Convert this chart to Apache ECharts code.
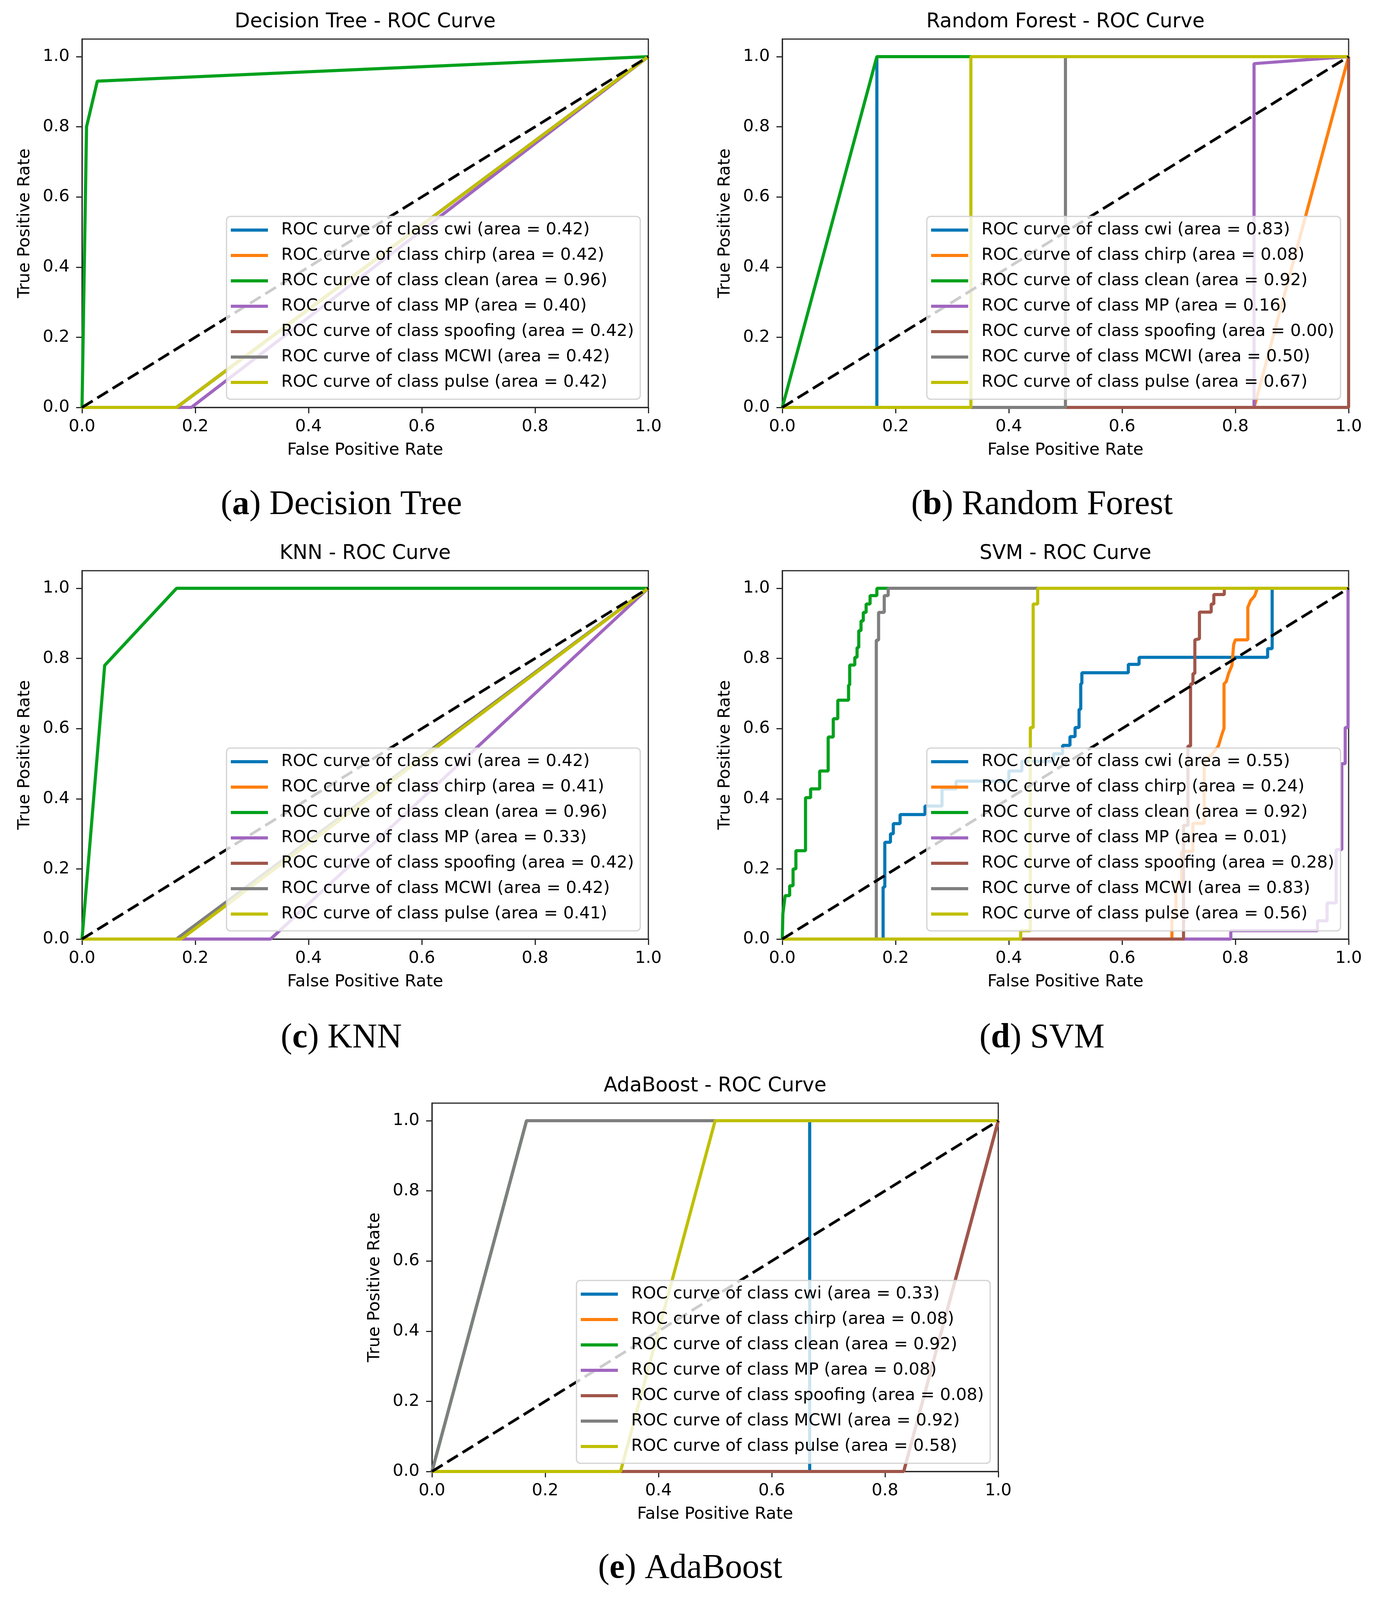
<!DOCTYPE html>
<html>
<head>
<meta charset="utf-8">
<title>ROC curves</title>
<script src="https://cdn.jsdelivr.net/npm/echarts@6/dist/echarts.min.js"></script>
<style>
    html, body { margin: 0; padding: 0; background: #fff; }
    #main { width: 3518px; height: 4102px; }
</style>
</head>
<body>
<div id="main"></div>
<script>
// classes, same order in every panel
var classNames = ['cwi', 'chirp', 'clean', 'MP', 'spoofing', 'MCWI', 'pulse'];
var xTicks = [0, 0.2, 0.4, 0.6, 0.8, 1.0];
var yTicks = [0, 0.2, 0.4, 0.6, 0.8, 1.0];
var chanceLine = [[0, 0], [1, 1]];

var panelTitles = ['Decision Tree - ROC Curve', 'Random Forest - ROC Curve', 'KNN - ROC Curve', 'SVM - ROC Curve', 'AdaBoost - ROC Curve'];
var panelLetters = ['a', 'b', 'c', 'd', 'e'];
var panelNames = ['Decision Tree', 'Random Forest', 'KNN', 'SVM', 'AdaBoost'];

// (a) Decision Tree
var dtAreas = [0.42, 0.42, 0.96, 0.40, 0.42, 0.42, 0.42];
var dtCurves = [
    [[0, 0], [0.167, 0], [1, 1]],
    [[0, 0], [0.167, 0], [1, 1]],
    [[0, 0], [0.008, 0.8], [0.027, 0.93], [1, 1]],
    [[0, 0], [0.193, 0], [1, 1]],
    [[0, 0], [0.167, 0], [1, 1]],
    [[0, 0], [0.167, 0], [1, 1]],
    [[0, 0], [0.167, 0], [1, 1]]
];

// (b) Random Forest
var rfAreas = [0.83, 0.08, 0.92, 0.16, 0.00, 0.50, 0.67];
var rfCurves = [
    [[0, 0], [0.167, 0], [0.167, 1], [1, 1]],
    [[0, 0], [0.833, 0], [1, 1]],
    [[0, 0], [0.167, 1], [1, 1]],
    [[0, 0], [0.833, 0], [0.833, 0.98], [1, 1]],
    [[0, 0], [1, 0], [1, 1]],
    [[0, 0], [0.5, 0], [0.5, 1], [1, 1]],
    [[0, 0], [0.333, 0], [0.333, 1], [1, 1]]
];

// (c) KNN
var knnAreas = [0.42, 0.41, 0.96, 0.33, 0.42, 0.42, 0.41];
var knnCurves = [
    [[0, 0], [0.167, 0], [1, 1]],
    [[0, 0], [0.175, 0], [1, 1]],
    [[0, 0], [0.04, 0.78], [0.167, 1], [1, 1]],
    [[0, 0], [0.333, 0], [1, 1]],
    [[0, 0], [0.167, 0], [1, 1]],
    [[0, 0], [0.167, 0], [1, 1]],
    [[0, 0], [0.175, 0], [1, 1]]
];

// (d) SVM
var svmAreas = [0.55, 0.24, 0.92, 0.01, 0.28, 0.83, 0.56];
var svmCwi = [[0, 0], [0.178, 0], [0.178, 0.148], [0.181, 0.148], [0.181, 0.276], [0.191, 0.276], [0.191, 0.300],
    [0.196, 0.300], [0.196, 0.329], [0.208, 0.329], [0.208, 0.355], [0.252, 0.355], [0.252, 0.379], [0.282, 0.379],
    [0.282, 0.428], [0.307, 0.428], [0.307, 0.450], [0.400, 0.450], [0.400, 0.479], [0.423, 0.479], [0.423, 0.507],
    [0.479, 0.507], [0.479, 0.528], [0.495, 0.528], [0.495, 0.552], [0.508, 0.552], [0.508, 0.577], [0.517, 0.577],
    [0.517, 0.603], [0.524, 0.603], [0.524, 0.655], [0.527, 0.655], [0.527, 0.728], [0.529, 0.728], [0.529, 0.759],
    [0.611, 0.759], [0.611, 0.783], [0.630, 0.783], [0.630, 0.803], [0.857, 0.803], [0.857, 0.828], [0.865, 0.828],
    [0.865, 1], [1, 1]];
var svmChirp = [[0, 0], [0.688, 0], [0.688, 0.06], [0.695, 0.06], [0.695, 0.16], [0.705, 0.16], [0.705, 0.25],
    [0.725, 0.25], [0.725, 0.33], [0.745, 0.33], [0.745, 0.5], [0.770, 0.55], [0.776, 0.582], [0.780, 0.601],
    [0.780, 0.727], [0.784, 0.734], [0.788, 0.757], [0.794, 0.780], [0.797, 0.839], [0.800, 0.853], [0.822, 0.853],
    [0.822, 0.945], [0.827, 0.965], [0.834, 0.978], [0.839, 1], [1, 1]];
var svmClean = [[0, 0], [0.001, 0.072], [0.005, 0.124], [0.013, 0.124], [0.013, 0.152], [0.019, 0.152], [0.019, 0.200],
    [0.024, 0.200], [0.024, 0.252], [0.041, 0.252], [0.041, 0.403], [0.050, 0.403], [0.050, 0.428], [0.066, 0.428],
    [0.066, 0.479], [0.081, 0.479], [0.081, 0.576], [0.090, 0.576], [0.090, 0.628], [0.098, 0.628], [0.098, 0.681],
    [0.117, 0.681], [0.117, 0.724], [0.119, 0.724], [0.119, 0.781], [0.128, 0.781], [0.128, 0.803], [0.132, 0.803],
    [0.132, 0.831], [0.135, 0.831], [0.135, 0.879], [0.139, 0.879], [0.139, 0.907], [0.143, 0.907], [0.143, 0.931],
    [0.148, 0.931], [0.148, 0.955], [0.155, 0.955], [0.155, 0.979], [0.167, 0.979], [0.167, 1], [1, 1]];
var svmMP = [[0, 0], [0.792, 0], [0.792, 0.024], [0.945, 0.024], [0.945, 0.052], [0.962, 0.052], [0.962, 0.103],
    [0.978, 0.103], [0.978, 0.255], [0.988, 0.255], [0.988, 0.5], [0.994, 0.5], [0.994, 0.603], [0.999, 0.603],
    [0.999, 1], [1, 1]];
var svmSpoofing = [[0, 0], [0.7085, 0], [0.7085, 0.324], [0.7163, 0.324], [0.7163, 0.55], [0.7209, 0.55],
    [0.7209, 0.727], [0.7251, 0.727], [0.7251, 0.757], [0.7285, 0.757], [0.7285, 0.853], [0.7366, 0.856],
    [0.7366, 0.932], [0.7574, 0.932], [0.7574, 0.955], [0.762, 0.955], [0.762, 0.982], [0.7805, 0.982],
    [0.7805, 1], [1, 1]];
var svmMCWI = [[0, 0], [0.166, 0], [0.166, 0.852], [0.170, 0.852], [0.170, 0.931], [0.180, 0.931], [0.180, 0.979],
    [0.187, 0.979], [0.187, 1], [1, 1]];
var svmPulse = [[0, 0], [0.421, 0], [0.421, 0.024], [0.438, 0.024], [0.438, 0.603], [0.443, 0.603], [0.443, 0.955],
    [0.451, 0.955], [0.451, 1], [1, 1]];
var svmCurves = [svmCwi, svmChirp, svmClean, svmMP, svmSpoofing, svmMCWI, svmPulse];

// (e) AdaBoost
var adaAreas = [0.33, 0.08, 0.92, 0.08, 0.08, 0.92, 0.58];
var adaCurves = [
    [[0, 0], [0.667, 0], [0.667, 1], [1, 1]],
    [[0, 0], [0.833, 0], [1, 1]],
    [[0, 0], [0.167, 1], [1, 1]],
    [[0, 0], [0.833, 0], [1, 1]],
    [[0, 0], [0.833, 0], [1, 1]],
    [[0, 0], [0.167, 1], [1, 1]],
    [[0, 0], [0.333, 0], [0.5, 1], [1, 1]]
];

var panelCurves = [dtCurves, rfCurves, knnCurves, svmCurves, adaCurves];
var panelAreas = [dtAreas, rfAreas, knnAreas, svmAreas, adaAreas];

// look
var classColors = ['#0077b6', '#ff7f0e', '#00a11c', '#a066c0', '#a0564a', '#7f7f7f', '#bfbf00'];
var FONT = "'DejaVu Sans'";
var plotW = 1450, plotH = 943;
var boxes = [[210, 100], [2003, 100], [210, 1461], [2003, 1461], [1106, 2824]];
var captionPos = [[874, 1293], [2668, 1293], [874, 2658], [2668, 2658], [1767, 4016]];

var chart = echarts.init(document.getElementById('main'));

var grids = [], xAxes = [], yAxes = [], legends = [], series = [], graphics = [];

var buildPanel = function (i) {
    var left = boxes[i][0], top = boxes[i][1];
    grids.push({
        left: left, top: top, width: plotW, height: plotH,
        show: true, borderColor: '#262626', borderWidth: 3, backgroundColor: 'transparent'
    });
    xAxes.push({
        gridIndex: i, type: 'value', min: 0, max: 1, interval: 0.2,
        name: 'False Positive Rate', nameLocation: 'middle', nameGap: 88,
        nameTextStyle: { fontSize: 43, color: '#000', fontFamily: FONT },
        axisLine: { show: true, onZero: false, lineStyle: { color: '#262626', width: 3 } },
        axisTick: { show: true, length: 15, lineStyle: { color: '#262626', width: 3 }, customValues: xTicks },
        axisLabel: {
            margin: 28, fontSize: 43, color: '#000', fontFamily: FONT, customValues: xTicks,
            formatter: function (v) { return v.toFixed(1); }
        },
        splitLine: { show: false }
    });
    yAxes.push({
        gridIndex: i, type: 'value', min: 0, max: 1.05, interval: 0.2,
        name: 'True Positive Rate', nameLocation: 'middle', nameGap: 125,
        nameTextStyle: { fontSize: 43, color: '#000', fontFamily: FONT },
        axisLine: { show: true, onZero: false, lineStyle: { color: '#262626', width: 3 } },
        axisTick: { show: true, length: 15, lineStyle: { color: '#262626', width: 3 }, customValues: yTicks },
        axisLabel: {
            margin: 32, fontSize: 43, color: '#000', fontFamily: FONT, customValues: yTicks,
            formatter: function (v) { return v > 1.001 ? '' : v.toFixed(1); }
        },
        splitLine: { show: false }
    });

    var names = [];
    panelCurves[i].forEach(function (pts, k) {
        var name = 'ROC curve of class ' + classNames[k] + ' (area = ' + panelAreas[i][k].toFixed(2) + ')';
        names.push(name);
        series.push({
            name: name, type: 'line', xAxisIndex: i, yAxisIndex: i,
            data: pts, symbol: 'none', showSymbol: false, silent: true,
            color: classColors[k],
            lineStyle: { color: classColors[k], width: 8 },
            emphasis: { disabled: true }
        });
    });
    // chance diagonal
    series.push({
        name: 'chance', type: 'line', xAxisIndex: i, yAxisIndex: i,
        data: chanceLine, symbol: 'none', showSymbol: false, silent: true,
        lineStyle: { color: '#000', width: 7, type: [32, 14] },
        emphasis: { disabled: true }
    });

    legends.push({
        data: names, orient: 'vertical', left: left + 370, top: top + 454,
        icon: 'rect', itemWidth: 95, itemHeight: 8, itemGap: 15,
        padding: [10, 16, 18, 11], selectedMode: false,
        backgroundColor: 'rgba(255,255,255,0.8)', borderColor: '#d2d2d2', borderWidth: 3, borderRadius: 10,
        textStyle: { fontSize: 43, fontFamily: FONT, color: '#000', lineHeight: 50, padding: [0, 0, 0, 29] }
    });

    // panel title
    graphics.push({
        type: 'text', x: left + plotW / 2, y: top - 43, silent: true,
        style: {
            text: panelTitles[i], fontSize: 51, fontFamily: FONT, fill: '#000',
            align: 'center', verticalAlign: 'middle', textAlign: 'center', textVerticalAlign: 'middle'
        }
    });
    // caption under the panel
    graphics.push({
        type: 'text', x: captionPos[i][0], y: captionPos[i][1], silent: true,
        style: {
            text: '{r|(}{b|' + panelLetters[i] + '}{r|) ' + panelNames[i] + '}',
            align: 'center', verticalAlign: 'middle', textAlign: 'center', textVerticalAlign: 'middle',
            rich: {
                r: { fontSize: 88, fontFamily: "'Liberation Serif'", fill: '#000', color: '#000' },
                b: { fontSize: 88, fontFamily: "'Liberation Serif'", fontWeight: 'bold', fill: '#000', color: '#000' }
            }
        }
    });
};

for (var i = 0; i < 5; i++) {
    buildPanel(i);
}

chart.setOption({
    backgroundColor: '#fff',
    animation: false,
    grid: grids,
    xAxis: xAxes,
    yAxis: yAxes,
    legend: legends,
    series: series,
    graphic: graphics
});
</script>
</body>
</html>
